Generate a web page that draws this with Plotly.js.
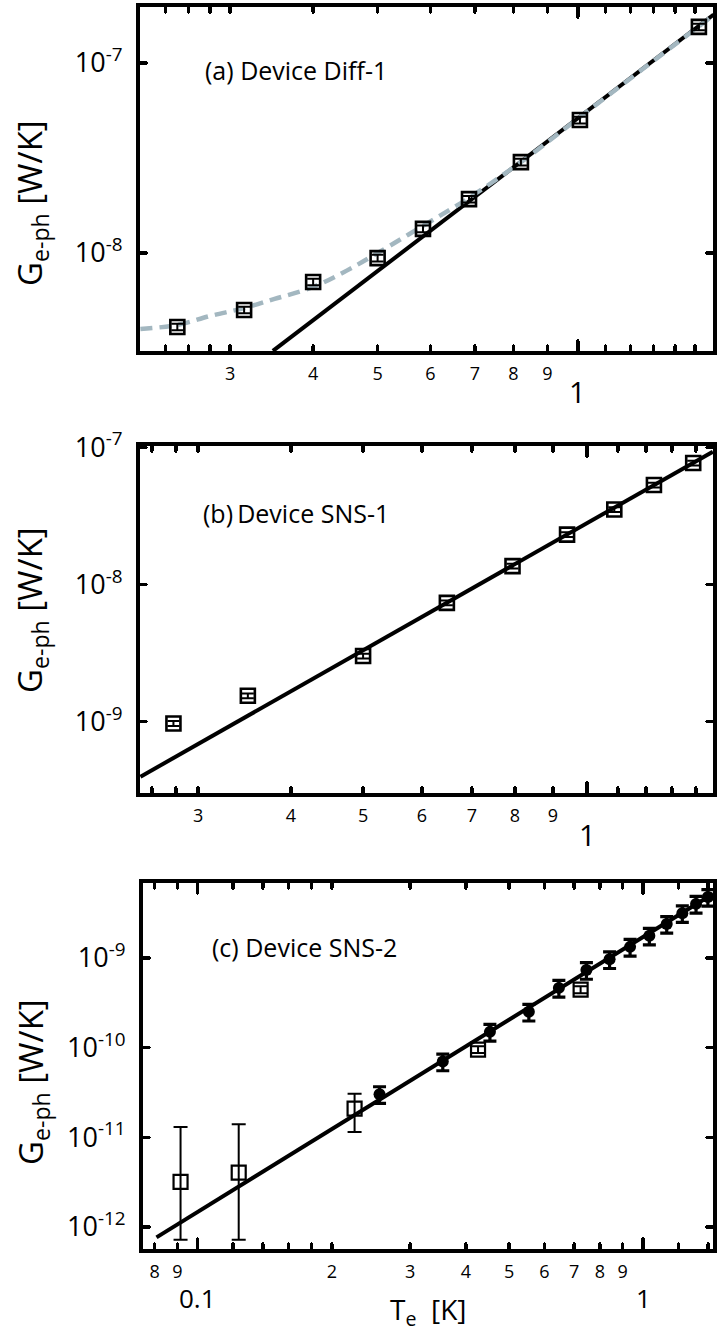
<!DOCTYPE html>
<html><head><meta charset="utf-8">
<script src="https://cdn.plot.ly/plotly-3.0.1.min.js"></script>
<style>
html,body{margin:0;padding:0;background:#fff}
#chart{width:717px;height:1331px}
path.ticks{stroke-linecap:round}
</style>
</head><body><div id="chart"></div>
<script>
// ---------- Panel (a) Device Diff-1 ----------
const aT = [0.25, 0.315, 0.40, 0.50, 0.585, 0.686, 0.821, 1.007, 1.52];
const aG = [4.08e-9, 5.01e-9, 7.04e-9, 9.4e-9, 1.34e-8, 1.92e-8, 3.01e-8, 5.01e-8, 1.55e-7];
const aFitT = [0.348, 1.6];
const aFitG = [3.05e-9, 1.8e-7];
const aDashT = [0.22, 0.25, 0.28, 0.315, 0.35, 0.40, 0.45, 0.50, 0.585, 0.686, 0.82, 1.0, 1.25, 1.6];
const aDashG = [3.98e-9, 4.18e-9, 4.66e-9, 5.13e-9, 5.73e-9, 6.62e-9, 8.1e-9, 1.0e-8, 1.39e-8, 1.95e-8, 3.0e-8, 5.1e-8, 9.27e-8, 1.79e-7];
const aTickVals = [0.24, 0.26, 0.28, 0.3, 0.4, 0.5, 0.6, 0.7, 0.8, 0.9, 1.1, 1.2, 1.3, 1.4, 1.5];
const aTickText = ['', '', '', '3', '4', '5', '6', '7', '8', '9', '', '', '', '', ''];
const aYTickVals = [1e-8, 1e-7];
const aYTickText = ['10<sup>-8</sup>', '10<sup>-7</sup>'];

// ---------- Panel (b) Device SNS-1 ----------
const bT = [0.278, 0.35, 0.5, 0.648, 0.794, 0.94, 1.088, 1.23, 1.389];
const bG = [0.967e-9, 1.54e-9, 3.0e-9, 7.33e-9, 1.36e-8, 2.31e-8, 3.52e-8, 5.31e-8, 7.69e-8];
const bFitT = [0.251, 1.476];
const bFitG = [3.95e-10, 9.3e-8];
const bTickVals = [0.26, 0.28, 0.3, 0.4, 0.5, 0.6, 0.7, 0.8, 0.9, 1.1, 1.2, 1.3, 1.4];
const bTickText = ['', '', '3', '4', '5', '6', '7', '8', '9', '', '', '', ''];
const bYTickVals = [1e-9, 1e-8, 1e-7];
const bYTickText = ['10<sup>-9</sup>', '10<sup>-8</sup>', '10<sup>-7</sup>'];

// ---------- Panel (c) Device SNS-2 ----------
const cSqT  = [0.0915, 0.1236, 0.225, 0.426, 0.724];
const cSqG  = [3.18e-12, 4.04e-12, 2.09e-11, 9.5e-11, 4.44e-10];
const cSqHi = [1.30e-11, 1.40e-11, 3.07e-11, 1.04e-10, 4.85e-10];
const cSqLo = [7.2e-13, 7.2e-13, 1.15e-11, 8.7e-11, 4.05e-10];
const cDotT = [0.256, 0.355, 0.453, 0.554, 0.647, 0.746, 0.841, 0.935, 1.033, 1.13, 1.225, 1.315, 1.398];
const cDotG = [3.03e-11, 7.0e-11, 1.50e-10, 2.51e-10, 4.64e-10, 7.33e-10, 9.66e-10, 1.33e-9, 1.77e-9, 2.39e-9, 3.15e-9, 4.01e-9, 4.78e-9];
const cFitT = [0.0808, 1.436];
const cFitG = [7.67e-13, 5.2e-9];
const cTickVals = [0.08, 0.09, 0.12, 0.14, 0.16, 0.18, 0.2, 0.3, 0.4, 0.5, 0.6, 0.7, 0.8, 0.9, 1.2, 1.4];
const cTickText = ['8', '9', '', '', '', '', '2', '3', '4', '5', '6', '7', '8', '9', '', ''];
const cYTickVals = [1e-12, 1e-11, 1e-10, 1e-9];
const cYTickText = ['10<sup>-12</sup>', '10<sup>-11</sup>', '10<sup>-10</sup>', '10<sup>-9</sup>'];

const FONT = 'Open Sans, Noto Sans, DejaVu Sans, sans-serif';
const W = 717, H = 1331;
const py = p => 1 - p / H;
const px = p => p / W;

function xAxis(x0, x1, range, vals, text, majors, anchor) {
  return {
    type: 'log', range: range, domain: [px(x0), px(x1)], anchor: anchor,
    showline: true, linewidth: 4, linecolor: '#000', mirror: 'ticks',
    ticks: 'inside', ticklen: 5, tickwidth: 3.5, tickcolor: '#000',
    tickmode: 'array', tickvals: vals, ticktext: text,
    tickfont: {family: FONT, size: 18, color: '#000'}, ticklabelstandoff: 3,
    minor: {tickmode: 'array', tickvals: majors, ticks: 'inside', ticklen: 10, tickwidth: 3.5, tickcolor: '#000', showgrid: false},
    showgrid: false, zeroline: false, fixedrange: true
  };
}
function yAxis(y0, y1, range, vals, text, anchor) {
  return {
    type: 'log', range: range, domain: [py(y1), py(y0)], anchor: anchor,
    showline: true, linewidth: 4, linecolor: '#000', mirror: 'ticks',
    ticks: 'inside', ticklen: 6, tickwidth: 3.5, tickcolor: '#000',
    tickmode: 'array', tickvals: vals, ticktext: text,
    tickfont: {family: FONT, size: 27, color: '#000'}, ticklabelstandoff: 8,
    showgrid: false, zeroline: false, fixedrange: true
  };
}

const sqErr = {type: 'percent', value: 4, width: 6, thickness: 2, color: '#000'};
const traces = [
  // (a)
  {x: aFitT, y: aFitG, xaxis: 'x', yaxis: 'y', mode: 'lines', line: {color: '#000', width: 4}},
  {x: aDashT, y: aDashG, xaxis: 'x', yaxis: 'y', mode: 'lines', line: {color: '#a3b7c0', width: 4.5, dash: '12px,7px', shape: 'spline'}},
  {x: aT, y: aG, xaxis: 'x', yaxis: 'y', mode: 'markers', marker: {symbol: 'square-open', size: 14, color: '#000', line: {width: 2.6, color: '#000'}}, error_y: sqErr},
  // (b)
  {x: bFitT, y: bFitG, xaxis: 'x2', yaxis: 'y2', mode: 'lines', line: {color: '#000', width: 4}},
  {x: bT, y: bG, xaxis: 'x2', yaxis: 'y2', mode: 'markers', marker: {symbol: 'square-open', size: 14, color: '#000', line: {width: 2.6, color: '#000'}}, error_y: sqErr},
  // (c)
  {x: cFitT, y: cFitG, xaxis: 'x3', yaxis: 'y3', mode: 'lines', line: {color: '#000', width: 4}},
  {x: cSqT, y: cSqG, xaxis: 'x3', yaxis: 'y3', mode: 'markers', marker: {symbol: 'square-open', size: 14, color: '#000', line: {width: 2.2, color: '#000'}},
   error_y: {type: 'data', symmetric: false, array: cSqHi.map((v, i) => v - cSqG[i]), arrayminus: cSqLo.map((v, i) => cSqG[i] - v), width: 7, thickness: 2, color: '#000'}},
  {x: cDotT, y: cDotG, xaxis: 'x3', yaxis: 'y3', mode: 'markers', marker: {symbol: 'circle', size: 12, color: '#000'},
   error_y: {type: 'percent', value: 21, width: 6.5, thickness: 3.2, color: '#000'}}
];

function ann(text, x, y, size, opts) {
  return Object.assign({text: text, x: x, y: y, xref: 'paper', yref: 'paper', showarrow: false,
    font: {family: FONT, size: size, color: '#000'}, xanchor: 'center', yanchor: 'middle'}, opts || {});
}
const ytitle = 'G<sub>e-ph</sub> [W/K]';
const annotations = [
  ann('(a) Device Diff-1', px(203), py(70), 25, {xanchor: 'left'}),
  ann('(b)\u2009Device SNS-1', px(201), py(513), 25, {xanchor: 'left'}),
  ann('(c) Device SNS-2', px(210), py(947), 25, {xanchor: 'left'}),
  ann(ytitle, px(32), py(203), 33, {textangle: -90}),
  ann(ytitle, px(32), py(610), 33, {textangle: -90}),
  ann(ytitle, px(32), py(1082), 33, {textangle: -90}),
  ann('1', Math.log10(1), py(392), 29, {xref: 'x'}),
  ann('1', Math.log10(1), py(834), 29, {xref: 'x2'}),
  ann('0.1', Math.log10(0.1), py(1298), 26, {xref: 'x3'}),
  ann('1', Math.log10(1), py(1298), 26, {xref: 'x3'}),
  ann('T<sub>e</sub>  [K]', px(428), py(1311), 28)
];

const layout = {
  width: W, height: H, margin: {l: 0, r: 0, t: 0, b: 0},
  paper_bgcolor: '#fff', plot_bgcolor: '#fff', showlegend: false,
  font: {family: FONT, color: '#000'},
  xaxis:  xAxis(140, 713, [Math.log10(0.2197), Math.log10(1.596)], aTickVals, aTickText, [1], 'y'),
  yaxis:  yAxis(7, 351, [-8.516, -6.705], aYTickVals, aYTickText, 'x'),
  xaxis2: xAxis(140, 713, [-0.6009, 0.1693], bTickVals, bTickText, [1], 'y2'),
  yaxis2: yAxis(446, 793, [-9.522, -6.99], bYTickVals, bYTickText, 'x2'),
  xaxis3: xAxis(143, 713, [-1.1229, 0.157], cTickVals, cTickText, [0.1, 1], 'y3'),
  yaxis3: yAxis(883, 1249, [-12.245, -8.164], cYTickVals, cYTickText, 'x3'),
  annotations: annotations
};
Plotly.newPlot('chart', traces, layout, {staticPlot: true, displayModeBar: false});
</script>
</body></html>
